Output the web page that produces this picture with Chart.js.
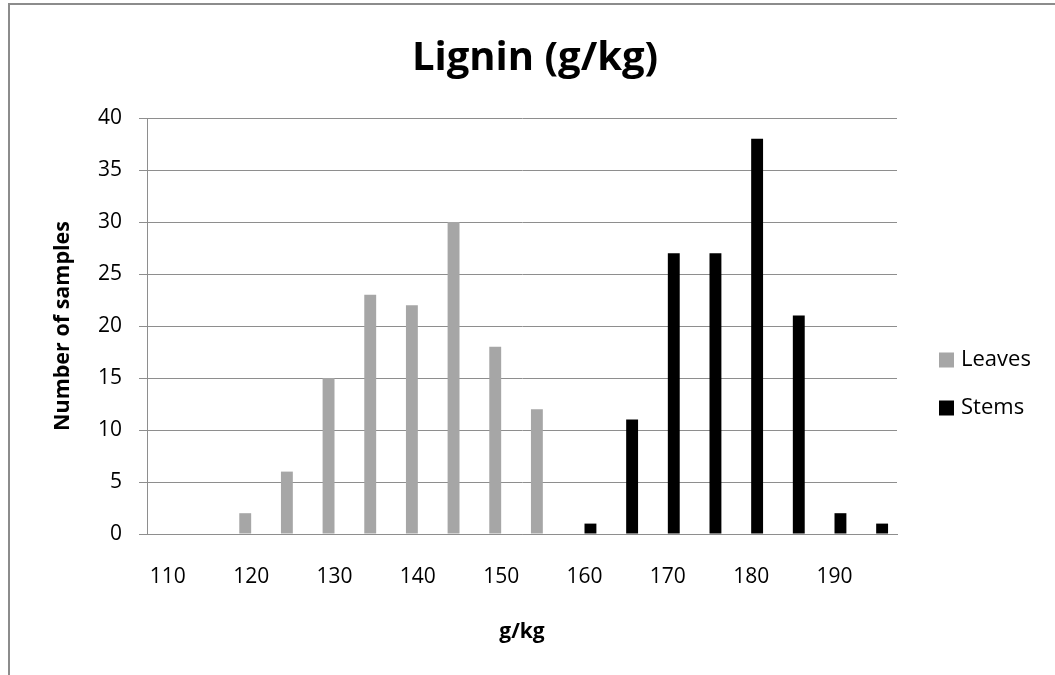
<!DOCTYPE html>
<html>
<head>
<meta charset="utf-8">
<title>Lignin (g/kg)</title>
<script src="https://cdn.jsdelivr.net/npm/chart.js@4.4.1/dist/chart.umd.min.js"></script>
<style>
  html, body { margin: 0; padding: 0; background: #fff; }
  #wrap { position: relative; width: 1055px; height: 675px; overflow: hidden; }
  #frame {
    position: absolute; left: 8px; top: 3px; right: -10px; bottom: -10px;
    border-top: 2px solid #8c8c8c; border-left: 2px solid #8c8c8c;
    pointer-events: none;
  }
  canvas { position: absolute; left: 0; top: 0; }
</style>
</head>
<body>
<div id="wrap">
  <canvas id="ligninChart" width="1055" height="675"></canvas>
  <div id="frame"></div>
</div>
<script>
const categories = [110, 115, 120, 125, 130, 135, 140, 145, 150, 155, 160, 165, 170, 175, 180, 185, 190, 195];
const leaves = [0, 0, 2, 6, 15, 23, 22, 30, 18, 12, 0, 0, 0, 0, 0, 0, 0, 0];
const stems = [0, 0, 0, 0, 0, 0, 0, 0, 0, 0, 1, 11, 27, 27, 38, 21, 2, 1];
const yTicks = [0, 5, 10, 15, 20, 25, 30, 35, 40];

const FONT = "'Open Sans', 'Liberation Sans', sans-serif";
const gridColor = "#8e8e8e";

// legend drawn at the right, like the Excel one
const sideLegend = {
  id: "sideLegend",
  afterDraw(chart) {
    const ctx = chart.ctx;
    ctx.save();
    ctx.font = "22px " + FONT;
    ctx.textBaseline = "middle";
    ctx.textAlign = "left";
    chart.data.datasets.forEach(function(ds, i) {
      const y = 360 + i * 48;
      ctx.fillStyle = ds.backgroundColor;
      ctx.fillRect(939, y - 7.5, 15, 15);
      ctx.fillStyle = "#000";
      ctx.fillText(ds.label, 961, y);
    });
    ctx.restore();
  }
};

document.addEventListener("DOMContentLoaded", function() {
  const ctx = document.getElementById("ligninChart").getContext("2d");
  new Chart(ctx, {
    type: "bar",
    data: {
      labels: categories.map(String),
      datasets: [
        {
          label: "Leaves",
          data: leaves,
          backgroundColor: "#a6a6a6",
          categoryPercentage: 0.571,
          barPercentage: 1.0
        },
        {
          label: "Stems",
          data: stems,
          backgroundColor: "#000000",
          categoryPercentage: 0.571,
          barPercentage: 1.0
        }
      ]
    },
    options: {
      responsive: false,
      animation: false,
      layout: { padding: { left: 15, right: 0, top: 0, bottom: 0 } },
      plugins: {
        legend: { display: false },
        tooltip: { enabled: false },
        title: {
          display: true,
          text: "Lignin (g/kg)",
          color: "#000",
          font: { family: FONT, size: 40, weight: "bold", lineHeight: 1.2 },
          padding: { top: 35, bottom: 35 }
        }
      },
      scales: {
        x: {
          grid: { display: false, drawTicks: false },
          border: { display: true, color: gridColor, width: 1 },
          ticks: {
            autoSkip: false,
            maxRotation: 0,
            color: "#000",
            padding: 30,
            font: { family: FONT, size: 21 },
            callback: function(value, index) {
              return index % 2 === 0 ? categories[index] : "";
            }
          },
          title: {
            display: true,
            text: "g/kg",
            color: "#000",
            font: { family: FONT, size: 21, weight: "bold" },
            padding: { top: 0, bottom: 30 }
          },
          afterFit: function(scale) { scale.height = 141; }
        },
        y: {
          min: 0,
          max: 40,
          afterBuildTicks: function(scale) {
            scale.ticks = yTicks.map(function(v) { return { value: v }; });
          },
          grid: { color: gridColor, lineWidth: 1, drawTicks: true, tickLength: 8 },
          border: { display: true, color: gridColor, width: 1 },
          ticks: {
            color: "#000",
            padding: 17,
            font: { family: FONT, size: 21 }
          },
          title: {
            display: true,
            text: "Number of samples",
            color: "#000",
            font: { family: FONT, size: 21.5, weight: "bold" },
            padding: { top: 35, bottom: 0 }
          },
          afterFit: function(scale) { scale.width = 132; }
        },
        // empty box on the right that keeps room for the legend
        legendSpace: {
          type: "linear",
          position: "right",
          display: true,
          grid: { display: false, drawTicks: false },
          border: { display: false },
          ticks: { display: false },
          afterFit: function(scale) { scale.width = 158; }
        }
      }
    },
    plugins: [sideLegend]
  });
});
</script>
</body>
</html>
